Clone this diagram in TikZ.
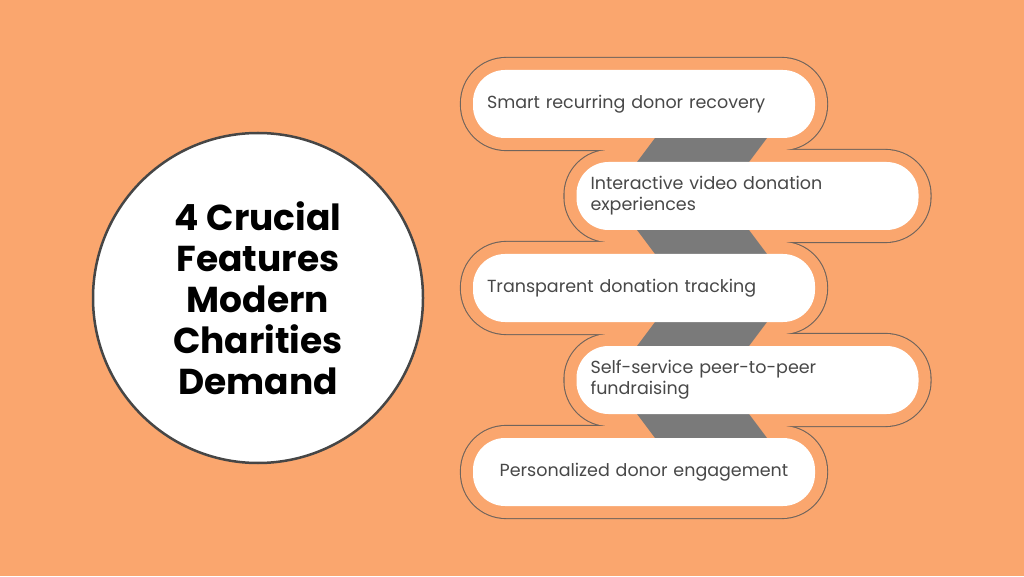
\documentclass[tikz,border=0pt]{standalone}
\usepackage{fontspec}
\setmainfont{Poppins}
\usepackage{tikz}
\usetikzlibrary{calc}

\definecolor{bgorange}{RGB}{250,166,110}
\definecolor{bandgray}{RGB}{122,122,122}
\definecolor{halogray}{RGB}{112,100,92}
\definecolor{ringgray}{RGB}{70,70,70}
\definecolor{txtgray}{RGB}{72,72,72}

\begin{document}
\begin{tikzpicture}[
  x=1pt, y=1pt,
  pill/.style  = {rectangle, fill=white, rounded corners=32pt, minimum height=68pt,
                  text width=314pt, inner xsep=14pt, inner ysep=0pt, align=left,
                  text=txtgray, font=\fontsize{17.5}{21}\selectfont},
  halo/.style  = {draw=halogray, line width=2.2pt, rounded corners=45pt},
  cover/.style = {fill=bgorange, rounded corners=45pt},
  band/.style  = {fill=bandgray},
  title/.style = {circle, draw=ringgray, line width=2.5pt, fill=white,
                  minimum size=330pt, align=center,
                  font=\fontsize{36}{41}\selectfont\bfseries}
]
  \fill[bgorange] (0,0) rectangle (1024,576);
  \useasboundingbox (0,0) rectangle (1024,576);

  % pill centres
  \coordinate (c1) at (644,472);
  \coordinate (c2) at (747.5,380);
  \coordinate (c3) at (644,288);
  \coordinate (c4) at (747.5,196);
  \coordinate (c5) at (644,104);

  % outer contour: strokes first, then covered by the fills
  \foreach \i in {1,...,5}
    \draw[halo] ($(c\i)+(-183,-46)$) rectangle ($(c\i)+(183,46)$);
  \foreach \i in {1,...,5}
    \fill[cover] ($(c\i)+(-183,-46)$) rectangle ($(c\i)+(183,46)$);

  % zigzag bands
  \fill[band] (661,446) -- (773,446) -- (743,406) -- (631,406) -- cycle;
  \fill[band] (631,354) -- (743,354) -- (773,314) -- (661,314) -- cycle;
  \fill[band] (661,262) -- (773,262) -- (743,222) -- (631,222) -- cycle;
  \fill[band] (631,170) -- (743,170) -- (773,130) -- (661,130) -- cycle;

  \node[pill] (p1) at (c1) {Smart recurring donor recovery};
  \node[pill] (p2) at (c2) {Interactive video donation\\experiences};
  \node[pill] (p3) at (c3) {Transparent donation tracking};
  \node[pill] (p4) at (c4) {Self-service peer-to-peer\\fundraising};
  \node[pill, align=center] (p5) at (c5) {Personalized donor engagement};

  \node[title] (head) at (258,278) {4 Crucial\\Features\\Modern\\Charities\\Demand};
\end{tikzpicture}
\end{document}
